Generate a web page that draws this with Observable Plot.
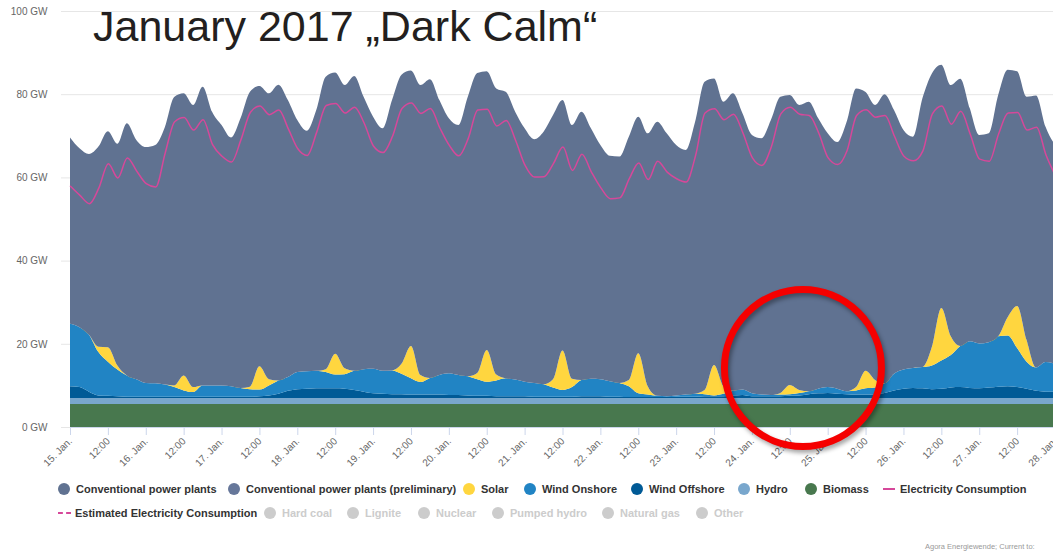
<!DOCTYPE html>
<html>
<head>
<meta charset="utf-8">
<script src="https://cdn.jsdelivr.net/npm/d3@7"></script>
<script src="https://cdn.jsdelivr.net/npm/@observablehq/plot@0.6"></script>
<style>
  html, body { margin: 0; padding: 0; background: #fff; }
  #page { position: relative; width: 1053px; height: 560px; overflow: hidden;
          font-family: "Liberation Sans", Arial, Helvetica, sans-serif; }
  #chart svg { display: block; }
  #title { position: absolute; left: 93px; top: 5px; font-size: 43px; line-height: 1;
           color: #231f20; white-space: nowrap; }
  .item { position: absolute; display: flex; align-items: center; height: 14px;
          font-size: 11px; font-weight: bold; color: #333; white-space: nowrap; }
  .item.off { color: #ccc; }
  .sym { flex: none; width: 12px; height: 12px; border-radius: 50%; margin-right: 6px; }
  .line { flex: none; width: 12px; height: 0; border-top: 2px solid; margin-right: 5px; }
  .line.dash { border-top-style: dashed; width: 13px; margin-right: 4px; }
  #credit { position: absolute; left: 925px; top: 542px; font-size: 7.5px; color: #999; white-space: nowrap; }
</style>
</head>
<body>
<div id="page">
  <div id="chart"></div>
  <div id="title">January 2017 „Dark Calm“</div>
  <div id="legend"></div>
  <div id="credit">Agora Energiewende; Current to: </div>
</div>
<script>
// Net generation and consumption in Germany, 15–28 January 2017, GW at 3-hour steps
const start = Date.UTC(2017, 0, 15);
const stepHours = 3;

const conventional = [
  44.8, 43.0, 43.4, 48.1, 51.9, 53.3, 60.6, 57.5, 56.7, 57.3,
  61.8, 69.3, 67.8, 67.8, 71.8, 65.8, 62.6, 59.8, 64.8, 70.9,
  67.4, 68.7, 71.1, 66.6, 60.6, 57.8, 62.7, 70.3, 67.6, 68.1,
  70.9, 65.5, 60.6, 58.3, 65.0, 69.5, 66.2, 69.7, 71.8, 66.1,
  61.3, 60.1, 67.2, 72.1, 67.0, 68.8, 68.9, 64.4, 60.9, 58.6,
  60.7, 63.5, 60.2, 61.0, 64.5, 60.2, 56.3, 54.2, 54.4, 58.5,
  56.9, 60.8, 65.9, 63.2, 60.2, 58.8, 65.4, 74.1, 68.9, 68.4,
  71.5, 66.4, 62.1, 61.6, 66.1, 71.2, 69.7, 68.5, 69.6, 65.0,
  61.0, 59.3, 64.8, 71.8, 67.0, 66.1, 69.5, 63.4, 57.6, 55.6,
  64.6, 65.7, 58.5, 60.4, 64.2, 56.0, 50.1, 50.2, 58.0, 59.5,
  56.4, 58.5, 65.4, 56.6, 52.6
];

const solar = [
  0, 0, 0, 1.3, 3.5, 1.0, 0, 0, 0, 0,
  0, 0.4, 3.6, 1.2, 0, 0, 0, 0, 0, 0.6,
  5.6, 1.5, 0, 0, 0, 0, 0, 0.7, 5.0, 1.4,
  0, 0, 0, 0, 0, 2.4, 7.8, 1.7, 0, 0,
  0, 0, 0, 1.5, 7.6, 1.4, 0, 0, 0, 0,
  0, 2.0, 9.5, 2.0, 0, 0, 0, 0, 0, 1.5,
  9.6, 2.0, 0, 0, 0, 0, 0, 1.0, 7.3, 1.8,
  0, 0, 0, 0, 0, 0.4, 2.2, 0.7, 0, 0,
  0, 0, 0, 0.8, 4.2, 1.8, 0, 0, 0, 0,
  0, 4.5, 12.6, 4.5, 0, 0, 0, 0, 0, 4.4,
  10.1, 5.2, 0, 0, 0
];

const windOnshore = [
  15.0, 14.4, 13.7, 10.4, 8.2, 6.4, 5.1, 4.2, 3.3, 3.2,
  2.9, 2.3, 1.5, 1.1, 2.7, 2.7, 2.7, 2.5, 2.1, 1.8,
  1.6, 2.4, 3.2, 3.3, 4.1, 4.2, 4.2, 3.9, 3.3, 3.5,
  4.6, 5.4, 5.9, 5.5, 5.7, 4.9, 3.9, 3.0, 4.0, 4.7,
  5.2, 4.8, 4.6, 4.0, 3.4, 3.8, 4.3, 4.0, 3.5, 3.3,
  3.0, 2.2, 1.6, 2.3, 3.9, 4.2, 4.1, 3.7, 3.3, 2.6,
  0.9, 0.6, 0.3, 0.2, 0.3, 0.5, 0.7, 0.5, 0.2, 0.6,
  1.1, 1.3, 0.7, 0.4, 0.3, 0.4, 0.4, 0.6, 0.7, 1.1,
  1.4, 1.2, 0.7, 1.0, 1.5, 1.6, 2.3, 4.0, 4.6, 4.8,
  5.1, 5.7, 6.8, 7.8, 9.9, 11.2, 10.8, 10.9, 12.1, 12.2,
  9.4, 6.5, 5.6, 7.1, 6.7
];

const windOffshore = [
  2.8, 2.6, 1.5, 0.6, 0.5, 0.4, 0.3, 0.3, 0.3, 0.3,
  0.3, 0.3, 0.3, 0.3, 0.3, 0.3, 0.3, 0.3, 0.3, 0.3,
  0.4, 0.6, 1.0, 1.7, 2.1, 2.2, 2.3, 2.3, 2.3, 2.2,
  1.9, 1.5, 1.1, 1.0, 0.9, 0.9, 0.8, 0.8, 0.8, 0.8,
  0.7, 0.7, 0.6, 0.5, 0.5, 0.4, 0.4, 0.4, 0.4, 0.3,
  0.3, 0.3, 0.3, 0.3, 0.4, 0.4, 0.4, 0.3, 0.3, 0.2,
  0.2, 0.2, 0.2, 0.2, 0.3, 0.3, 0.3, 0.4, 0.4, 0.4,
  0.6, 0.7, 0.4, 0.4, 0.4, 0.4, 0.5, 0.6, 0.9, 1.1,
  1.2, 1.0, 0.9, 0.8, 0.8, 0.9, 1.2, 1.8, 2.2, 2.4,
  2.3, 2.1, 2.2, 2.5, 2.6, 2.4, 2.3, 2.5, 2.7, 2.8,
  2.6, 2.2, 1.7, 1.5, 1.5
];

const hydro = [
  1.5, 1.5, 1.5, 1.5, 1.5, 1.5, 1.5, 1.5, 1.5, 1.5,
  1.5, 1.5, 1.5, 1.5, 1.5, 1.5, 1.5, 1.5, 1.5, 1.5,
  1.5, 1.5, 1.5, 1.5, 1.5, 1.5, 1.5, 1.5, 1.5, 1.5,
  1.5, 1.5, 1.5, 1.5, 1.5, 1.5, 1.5, 1.5, 1.5, 1.5,
  1.5, 1.5, 1.5, 1.5, 1.5, 1.5, 1.5, 1.5, 1.5, 1.5,
  1.5, 1.5, 1.5, 1.5, 1.5, 1.5, 1.5, 1.5, 1.5, 1.5,
  1.5, 1.5, 1.5, 1.5, 1.5, 1.5, 1.5, 1.5, 1.5, 1.5,
  1.5, 1.5, 1.5, 1.5, 1.5, 1.5, 1.5, 1.5, 1.5, 1.5,
  1.5, 1.5, 1.5, 1.5, 1.5, 1.5, 1.5, 1.5, 1.5, 1.5,
  1.5, 1.5, 1.5, 1.5, 1.5, 1.5, 1.5, 1.5, 1.5, 1.5,
  1.5, 1.5, 1.5, 1.5, 1.5
];

const biomass = [
  5.5, 5.5, 5.5, 5.5, 5.5, 5.5, 5.5, 5.5, 5.5, 5.5,
  5.5, 5.5, 5.5, 5.5, 5.5, 5.5, 5.5, 5.5, 5.5, 5.5,
  5.5, 5.5, 5.5, 5.5, 5.5, 5.5, 5.5, 5.5, 5.5, 5.5,
  5.5, 5.5, 5.5, 5.5, 5.5, 5.5, 5.5, 5.5, 5.5, 5.5,
  5.5, 5.5, 5.5, 5.5, 5.5, 5.5, 5.5, 5.5, 5.5, 5.5,
  5.5, 5.5, 5.5, 5.5, 5.5, 5.5, 5.5, 5.5, 5.5, 5.5,
  5.5, 5.5, 5.5, 5.5, 5.5, 5.5, 5.5, 5.5, 5.5, 5.5,
  5.5, 5.5, 5.5, 5.5, 5.5, 5.5, 5.5, 5.5, 5.5, 5.5,
  5.5, 5.5, 5.5, 5.5, 5.5, 5.5, 5.5, 5.5, 5.5, 5.5,
  5.5, 5.5, 5.5, 5.5, 5.5, 5.5, 5.5, 5.5, 5.5, 5.5,
  5.5, 5.5, 5.5, 5.5, 5.5
];

const consumption = [
  58.0, 55.8, 53.8, 57.6, 63.4, 60.0, 64.8, 61.6, 58.6, 57.8,
  66.0, 73.5, 74.5, 71.5, 74.0, 68.0, 65.2, 63.8, 69.2, 75.8,
  77.3, 75.2, 76.3, 71.8, 67.0, 65.4, 71.0, 77.4, 77.9, 75.6,
  77.0, 73.2, 67.6, 66.1, 70.0, 76.7, 78.0, 75.5, 76.7, 72.0,
  67.8, 65.3, 69.5, 76.3, 76.5, 72.5, 73.8, 69.0, 63.0, 60.2,
  60.3, 63.5, 67.4, 61.8, 65.7, 61.4, 57.6, 55.0, 55.2, 59.8,
  63.6, 59.6, 64.0, 61.4, 59.8, 59.0, 65.4, 75.6, 76.6, 74.0,
  75.3, 70.8, 64.8, 63.0, 67.5, 75.4, 77.0, 75.3, 75.0, 70.8,
  64.8, 63.2, 66.6, 75.0, 76.4, 74.6, 75.0, 70.0, 65.2, 64.1,
  66.5, 75.4, 77.3, 72.9, 76.0, 70.5, 64.5, 64.0, 70.6, 75.6,
  75.7, 71.5, 72.2, 65.5, 60.5
];

// x-axis labels, one every 12 hours from 15 Jan 00:00
const tickLabels = [
  "15. Jan.", "12:00", "16. Jan.", "12:00", "17. Jan.", "12:00", "18. Jan.", "12:00",
  "19. Jan.", "12:00", "20. Jan.", "12:00", "21. Jan.", "12:00", "22. Jan.", "12:00",
  "23. Jan.", "12:00", "24. Jan.", "12:00", "25. Jan.", "12:00", "26. Jan.", "12:00",
  "27. Jan.", "12:00", "28. Jan."
];
const yTicks = [0, 20, 40, 60, 80, 100];

// the windless, sunless stretch highlighted on the chart
const darkCalm = [{time: "2017-01-24T16:00Z", value: 14.3}];

// legend entries
const legendRow1 = ["Conventional power plants", "Conventional power plants (preliminary)", "Solar",
  "Wind Onshore", "Wind Offshore", "Hydro", "Biomass", "Electricity Consumption"];
const legendRow2 = ["Estimated Electricity Consumption", "Hard coal", "Lignite", "Nuclear",
  "Pumped hydro", "Natural gas", "Other"];

// styling
const palette = {
  "Conventional power plants": "#607291",
  "Conventional power plants (preliminary)": "#66779a",
  "Solar": "#ffd63f",
  "Wind Onshore": "#2184c4",
  "Wind Offshore": "#005a96",
  "Hydro": "#79a7cd",
  "Biomass": "#48784e",
  "Electricity Consumption": "#d6489a",
  "Estimated Electricity Consumption": "#d6489a"
};
const stackOrder = ["Biomass", "Hydro", "Wind Offshore", "Wind Onshore", "Solar", "Conventional power plants"];
const legendRow1X = [58, 228, 463, 524, 631, 738, 805, 883];
const legendRow2X = [58, 264, 347, 418, 492, 602, 696];

const hour = 3600e3;
const timeAt = (i) => new Date(start + i * stepHours * hour);
const seriesValues = {
  "Biomass": biomass, "Hydro": hydro, "Wind Offshore": windOffshore,
  "Wind Onshore": windOnshore, "Solar": solar, "Conventional power plants": conventional
};
const generation = stackOrder.flatMap((name) =>
  seriesValues[name].map((value, i) => ({series: name, time: timeAt(i), value})));
const demand = consumption.map((value, i) => ({time: timeAt(i), value}));
const tickTimes = tickLabels.map((_, i) => new Date(start + i * 12 * hour));
const labelFor = (d) => tickLabels[Math.round((+d - start) / (12 * hour))];
const endTime = new Date(start + (consumption.length - 1) * stepHours * hour);

const chart = Plot.plot({
  width: 1053,
  height: 475,
  marginTop: 11,
  marginBottom: 48,
  marginLeft: 70,
  marginRight: 0,
  style: {fontFamily: '"Liberation Sans", Arial, sans-serif', background: "transparent", overflow: "visible"},
  x: {type: "utc", domain: [new Date(start), endTime], range: [70, 1055]},
  y: {domain: [0, 100]},
  color: {domain: stackOrder, range: stackOrder.map((k) => palette[k])},
  marks: [
    Plot.gridY(yTicks, {stroke: "#e6e6e6", strokeOpacity: 1}),
    Plot.axisY(yTicks, {tickSize: 9, tickPadding: 14, stroke: "#e6e6e6", fill: "#666", fontSize: 10,
      tickFormat: (d) => `${d} GW`, label: null}),
    Plot.areaY(generation, {x: "time", y: "value", z: "series", fill: "series", order: stackOrder,
      curve: "monotone-x"}),
    Plot.lineY(demand, {x: "time", y: "value", stroke: palette["Electricity Consumption"],
      strokeWidth: 1.5, curve: "monotone-x"}),
    Plot.ruleY([0], {stroke: "#ccd6eb"}),
    Plot.axisX(tickTimes, {tickRotate: -45, tickSize: 8, tickPadding: 4, stroke: "#ccd6eb", fill: "#666",
      fontSize: 10, tickFormat: labelFor, label: null}),
    Plot.dot(darkCalm, {x: (d) => new Date(d.time), y: "value", r: 78.5, stroke: "#f50000",
      strokeWidth: 7, fill: "none"})
  ]
});
d3.select(chart).selectAll('g[aria-label="dot"]').style("filter", "drop-shadow(2px 3px 2px rgba(0,0,0,0.35))");
document.getElementById("chart").append(chart);

// legend built as HTML below the plot
const legend = d3.select("#legend");
function addItem(label, x, y, kind, active) {
  const item = legend.append("div").attr("class", "item" + (active ? "" : " off"))
    .style("left", x + "px").style("top", y + "px");
  if (kind === "circle") {
    item.append("span").attr("class", "sym").style("background", active ? palette[label] : "#ccc");
  } else {
    item.append("span").attr("class", kind === "dash" ? "line dash" : "line")
      .style("border-color", palette[label]);
  }
  item.append("span").text(label);
}
legendRow1.forEach((label, i) =>
  addItem(label, legendRow1X[i], 482, label === "Electricity Consumption" ? "line" : "circle", true));
legendRow2.forEach((label, i) =>
  addItem(label, legendRow2X[i], 506, i === 0 ? "dash" : "circle", i === 0));
</script>
</body>
</html>
